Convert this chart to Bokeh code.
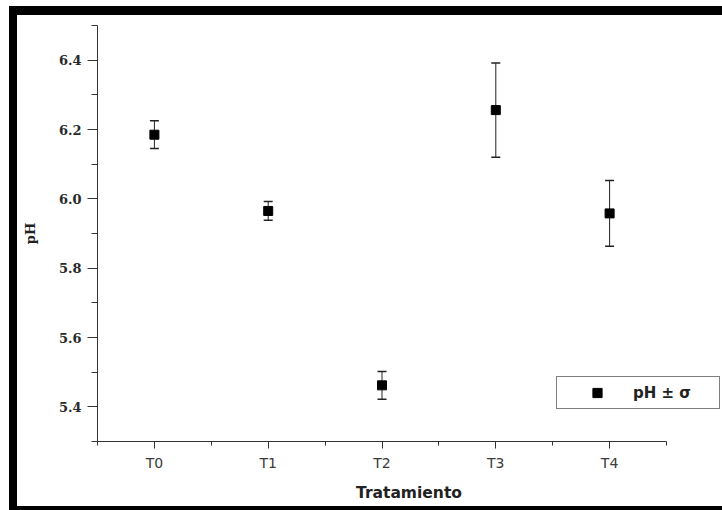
from bokeh.plotting import figure
from bokeh.models import (Range1d, FixedTicker, Whisker, TeeHead, ColumnDataSource,
                          Legend, LegendItem, PrintfTickFormatter)
from bokeh.embed import file_html
from bokeh.resources import INLINE

# ---- data ----
categories = ["T0", "T1", "T2", "T3", "T4"]
ph_mean = [6.185, 5.965, 5.462, 6.256, 5.958]
ph_sigma = [0.040, 0.027, 0.040, 0.136, 0.095]
y_ticks = [5.4, 5.6, 5.8, 6.0, 6.2, 6.4]
y_minor = [5.3, 5.5, 5.7, 5.9, 6.1, 6.3, 6.5]
legend_text = "pH ± σ"

x_pos = list(range(len(categories)))
x_minor = [i - 0.5 for i in range(len(categories) + 1)]
x_lo, x_hi = -0.5, len(categories) - 0.5   # extent of the drawn x axis

# layout (pixels)
canvas_w, canvas_h = 705, 491
left, right, top, bottom = 80, 2, 10, 65
axis_px = 569                          # pixel length of the drawn x axis
frame_w = canvas_w - left - right
x_end = x_lo + (x_hi - x_lo) * frame_w / axis_px   # room on the right for the legend

src = ColumnDataSource(dict(
    x=x_pos,
    y=ph_mean,
    upper=[m + s for m, s in zip(ph_mean, ph_sigma)],
    lower=[m - s for m, s in zip(ph_mean, ph_sigma)],
))

# thick black picture frame drawn as CSS shadows (does not change the canvas size)
frame_shadow = ("-8px 0 0 0 black, 0 -9px 0 0 black, -8px -9px 0 0 black, "
                "0 4px 0 0 black, -8px 4px 0 0 black")

p = figure(width=canvas_w, height=canvas_h, output_backend="svg", toolbar_location=None,
           x_range=Range1d(x_lo, x_end), y_range=Range1d(5.3, 6.5),
           min_border_left=left, min_border_right=right,
           min_border_top=top, min_border_bottom=bottom,
           styles={"margin-left": "17px", "margin-top": "15px",
                   "box-shadow": frame_shadow})
p.background_fill_color = "white"
p.border_fill_color = "white"
p.outline_line_color = None
p.xgrid.grid_line_color = None
p.ygrid.grid_line_color = None

axis_col = "#333333"

# x axis
xa = p.xaxis[0]
xa.bounds = (x_lo, x_hi)
xa.ticker = FixedTicker(ticks=x_pos, minor_ticks=x_minor)
xa.major_label_overrides = {i: c for i, c in zip(x_pos, categories)}
xa.axis_line_color = axis_col
xa.major_tick_line_color = axis_col
xa.minor_tick_line_color = axis_col
xa.major_tick_in = 0
xa.major_tick_out = 7
xa.minor_tick_in = 0
xa.minor_tick_out = 4
xa.major_label_text_font = "DejaVu Sans"
xa.major_label_text_font_size = "14px"
xa.major_label_text_color = "#3a3a3a"
xa.major_label_standoff = 6
xa.axis_label = "Tratamiento"
xa.axis_label_text_font = "DejaVu Sans"
xa.axis_label_text_font_style = "bold"
xa.axis_label_text_font_size = "15.5px"
xa.axis_label_text_color = "#222222"
xa.axis_label_standoff = 10

# y axis
ya = p.yaxis[0]
ya.ticker = FixedTicker(ticks=y_ticks, minor_ticks=y_minor)
ya.formatter = PrintfTickFormatter(format="%.1f")
ya.axis_line_color = axis_col
ya.major_tick_line_color = axis_col
ya.minor_tick_line_color = axis_col
ya.major_tick_in = 0
ya.major_tick_out = 10
ya.minor_tick_in = 0
ya.minor_tick_out = 6
ya.major_label_text_font = "DejaVu Serif"
ya.major_label_text_font_style = "bold"
ya.major_label_text_font_size = "13px"
ya.major_label_text_color = "#2a2a2a"
ya.major_label_standoff = 6
ya.axis_label = "pH"
ya.axis_label_text_font = "DejaVu Serif"
ya.axis_label_text_font_style = "bold"
ya.axis_label_text_font_size = "13px"
ya.axis_label_text_color = "#222222"
ya.axis_label_standoff = 18

# error bars
whisk = Whisker(base="x", upper="upper", lower="lower", source=src,
                line_color="#222222", line_width=1,
                upper_head=TeeHead(size=9, line_color="#222222", line_width=1.5),
                lower_head=TeeHead(size=9, line_color="#222222", line_width=1.5))
p.add_layout(whisk)

pts = p.scatter("x", "y", source=src, marker="square", size=9,
                fill_color="black", line_color="black")

legend = Legend(items=[LegendItem(label=legend_text, renderers=[pts])],
                location=(459, 32), padding=4, margin=0,
                glyph_width=72, glyph_height=23, label_height=23, label_width=82,
                label_standoff=0, spacing=0,
                border_line_color="black", border_line_width=1.5,
                background_fill_color="white", background_fill_alpha=1,
                label_text_font="DejaVu Sans", label_text_font_style="bold",
                label_text_font_size="15px", label_text_color="#222222")
p.add_layout(legend)

open("out.html", "w").write(file_html(p, INLINE))
